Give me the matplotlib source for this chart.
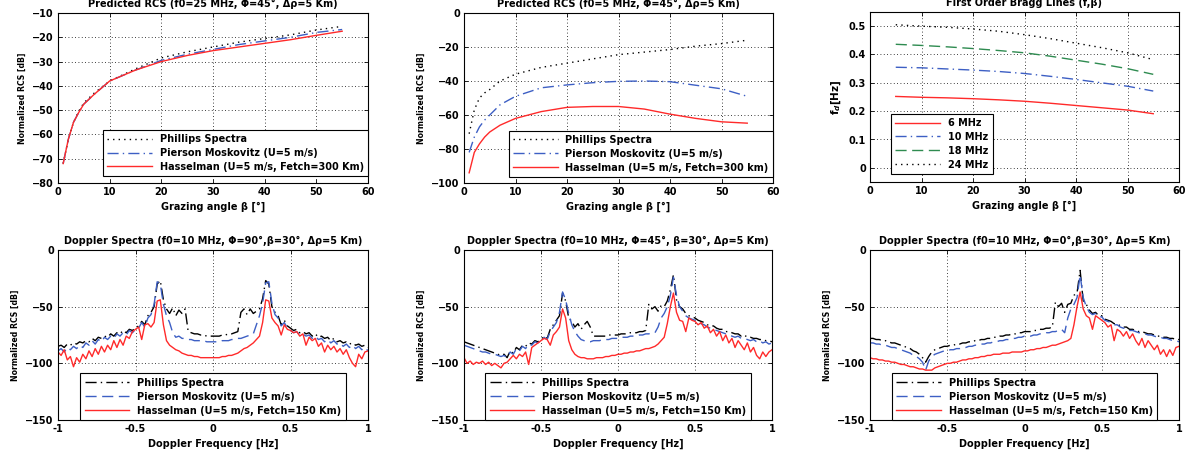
import numpy as np
import matplotlib
matplotlib.use('Agg')
from matplotlib import pyplot as plt
from matplotlib import font_manager

plt.rcParams['font.family'] = ['DejaVu Sans']
plt.rcParams['font.weight'] = 'bold'
plt.rcParams['font.size'] = 7
plt.rcParams['axes.titleweight'] = 'bold'
plt.rcParams['axes.labelweight'] = 'bold'

RED = '#ff2a2a'
BLUE = '#3d5fc4'
GREEN = '#2e8b50'

# ---- predicted RCS vs grazing angle ----
grazing = [1, 2, 3, 4, 5, 7, 10, 15, 20, 25, 30, 35, 40, 45, 50, 55]

rcs25_phillips = [-72, -62, -55, -50.5, -47, -43, -38, -33, -28.5, -26, -24, -22, -20.5, -19, -17, -15.5]
rcs25_pm = [-72, -62, -55, -51, -47.5, -43.5, -38, -33.5, -29.5, -27, -25, -23, -21.5, -20, -18, -16.8]
rcs25_hass = [-72, -62, -55, -51, -47.5, -43.5, -38, -33.5, -30, -27.5, -25.5, -24, -22.5, -21, -19.2, -17.5]

rcs5_phillips = [-71, -57, -50, -47, -45, -40, -36, -32, -29.5, -27, -24.5, -23, -21.5, -19.5, -18, -16]
rcs5_pm = [-82, -73, -67, -63, -60, -54, -49, -44, -42.3, -41, -40.2, -40, -40.4, -42.5, -44.6, -49]
rcs5_hass = [-94, -82, -77, -73, -70, -66, -62, -58, -55.5, -55, -55, -56.5, -59.5, -62, -64, -64.8]

# ---- first order Bragg lines ----
bragg_angle = [5, 10, 15, 20, 25, 30, 35, 40, 45, 50, 55]
bragg_6 = [0.252, 0.249, 0.247, 0.244, 0.240, 0.235, 0.228, 0.220, 0.212, 0.204, 0.191]
bragg_10 = [0.355, 0.353, 0.349, 0.345, 0.340, 0.333, 0.323, 0.312, 0.300, 0.288, 0.271]
bragg_18 = [0.436, 0.432, 0.427, 0.421, 0.414, 0.406, 0.394, 0.380, 0.366, 0.350, 0.330]
bragg_24 = [0.505, 0.500, 0.496, 0.490, 0.482, 0.470, 0.456, 0.440, 0.424, 0.406, 0.382]

# ---- doppler spectra, -1 .. 1 Hz in 0.02 Hz steps ----
doppler_freq = np.linspace(-1, 1, 101)

dop90_phillips = [-85, -84, -86, -83, -84, -82, -83, -81, -82, -80,
                  -81, -78, -80, -77, -78, -76, -77, -74, -76, -73,
                  -74, -71, -73, -70, -71, -69, -67, -63, -66, -58,
                  -55, -50, -30, -27, -44, -52, -56, -51, -58, -53,
                  -56, -52, -72, -73, -74, -74, -75, -75, -76, -76,
                  -76,
                  -76, -76, -75, -75, -74, -74, -73, -72, -55, -52,
                  -57, -52, -56, -54, -52, -43, -27, -30, -50, -55,
                  -58, -66, -62, -67, -69, -71, -70, -73, -72, -74,
                  -73, -76, -74, -77, -76, -78, -77, -80, -78, -81,
                  -80, -82, -81, -83, -82, -84, -83, -85, -84, -86]
dop90_pm = [-89, -87, -90, -86, -88, -85, -87, -84, -86, -82,
            -84, -80, -83, -79, -81, -77, -79, -76, -78, -74,
            -76, -73, -75, -71, -73, -70, -69, -64, -68, -60,
            -57, -48, -28, -30, -48, -58, -64, -73, -77, -76,
            -78, -78, -79, -79, -80, -80, -80, -80, -81, -81,
            -81,
            -81, -81, -80, -80, -80, -79, -79, -78, -78, -77,
            -76, -75, -74, -66, -58, -47, -29, -28, -47, -57,
            -60, -67, -64, -69, -71, -73, -72, -75, -74, -76,
            -75, -78, -76, -79, -78, -81, -79, -82, -80, -83,
            -82, -85, -83, -86, -84, -87, -85, -88, -86, -89]
dop90_hass = [-90, -93, -88, -97, -94, -103, -95, -99, -92, -96,
              -89, -94, -87, -92, -85, -90, -84, -88, -80, -86,
              -79, -84, -76, -78, -72, -70, -68, -79, -66, -65,
              -68, -64, -45, -44, -66, -80, -84, -86, -88, -89,
              -91, -92, -93, -93, -94, -94, -95, -95, -95, -95,
              -95,
              -95, -95, -94, -94, -93, -93, -92, -91, -89, -87,
              -86, -84, -82, -79, -76, -64, -44, -45, -60, -64,
              -67, -75, -66, -70, -71, -73, -72, -76, -74, -84,
              -77, -80, -78, -85, -82, -90, -84, -88, -85, -90,
              -87, -92, -88, -95, -100, -103, -92, -96, -90, -89]

dop45_phillips = [-81, -82, -83, -84, -85, -86, -87, -88, -89, -90,
                  -91, -92, -93, -92, -95, -89, -91, -86, -88, -84,
                  -85, -82, -83, -80, -81, -79, -76, -78, -70, -66,
                  -62, -58, -38, -45, -60, -63, -68, -65, -70, -66,
                  -63, -68, -76, -76, -76, -76, -76, -75, -75, -75,
                  -75,
                  -74, -74, -74, -73, -73, -73, -72, -72, -71, -48,
                  -52, -50, -54, -49, -50, -45, -35, -22, -44, -50,
                  -52, -56, -58, -59, -60, -62, -63, -64, -66, -67,
                  -67, -69, -70, -70, -72, -72, -73, -74, -74, -76,
                  -75, -77, -77, -78, -78, -79, -79, -80, -80, -81]
dop45_pm = [-84, -85, -86, -87, -88, -89, -90, -90, -91, -92,
            -92, -93, -94, -93, -95, -90, -92, -87, -89, -85,
            -87, -83, -84, -81, -82, -80, -77, -79, -72, -68,
            -64, -55, -37, -44, -56, -66, -72, -76, -79, -80,
            -81, -81, -80, -80, -80, -79, -79, -79, -78, -78,
            -78,
            -77, -77, -77, -76, -76, -76, -75, -75, -74, -74,
            -73, -73, -68, -60, -56, -50, -40, -24, -40, -50,
            -54, -58, -60, -61, -62, -64, -65, -66, -68, -69,
            -70, -71, -72, -73, -74, -75, -76, -77, -76, -78,
            -78, -79, -80, -79, -81, -80, -82, -81, -83, -82]
dop45_hass = [-95, -100, -98, -101, -99, -100, -98, -101, -99, -102,
              -100, -102, -104, -100, -99, -96, -93, -96, -92, -94,
              -90, -101, -86, -84, -82, -80, -78, -79, -84, -75,
              -72, -68, -52, -60, -80, -88, -92, -94, -95, -95,
              -96, -96, -96, -95, -95, -95, -94, -94, -93, -93,
              -92,
              -92, -91, -91, -90, -90, -89, -89, -88, -87, -87,
              -86, -85, -83, -80, -77, -65, -50, -38, -55, -62,
              -63, -72, -60, -62, -63, -66, -64, -69, -67, -73,
              -70, -76, -72, -80, -75, -82, -78, -86, -80, -84,
              -88, -82, -90, -86, -93, -96, -90, -94, -90, -88]

dop0_phillips = [-78, -78, -79, -79, -80, -80, -81, -82, -82, -83,
                 -84, -85, -86, -87, -89, -90, -92, -95, -99, -94,
                 -90, -88, -87, -86, -85, -85, -84, -84, -83, -83,
                 -82, -82, -81, -81, -80, -80, -79, -79, -78, -78,
                 -77, -77, -76, -76, -75, -75, -74, -74, -73, -73,
                 -72,
                 -72, -72, -71, -71, -70, -70, -69, -69, -68, -46,
                 -50, -47, -55, -48, -47, -40, -38, -18, -45, -48,
                 -53, -56, -55, -58, -58, -61, -62, -63, -65, -65,
                 -67, -68, -68, -70, -70, -71, -72, -72, -73, -74,
                 -74, -75, -76, -76, -77, -77, -78, -78, -79, -79]
dop0_pm = [-82, -82, -83, -83, -84, -84, -85, -86, -86, -87,
           -88, -89, -90, -91, -93, -94, -96, -99, -106, -98,
           -94, -92, -91, -90, -89, -89, -88, -88, -87, -87,
           -86, -86, -85, -85, -84, -84, -83, -83, -82, -82,
           -81, -81, -80, -80, -79, -79, -78, -78, -77, -77,
           -76,
           -76, -76, -75, -75, -74, -74, -73, -73, -72, -72,
           -71, -70, -73, -60, -52, -48, -42, -22, -42, -50,
           -55, -57, -56, -59, -59, -62, -63, -64, -66, -66,
           -68, -69, -69, -71, -71, -72, -73, -73, -74, -75,
           -75, -76, -77, -77, -78, -78, -79, -80, -80, -81]
dop0_hass = [-95, -96, -96, -97, -97, -98, -98, -99, -99, -100,
             -101, -101, -102, -103, -103, -104, -105, -105, -106, -106,
             -106, -104, -103, -102, -101, -100, -100, -99, -99, -98,
             -97, -97, -96, -96, -95, -95, -94, -94, -93, -93,
             -92, -92, -92, -91, -91, -91, -90, -90, -90, -90,
             -89,
             -89, -88, -88, -87, -87, -86, -86, -85, -84, -84,
             -83, -82, -81, -80, -78, -66, -50, -37, -52, -58,
             -60, -70, -58, -60, -62, -64, -68, -66, -80, -70,
             -72, -76, -72, -78, -74, -80, -84, -78, -86, -80,
             -84, -88, -84, -92, -88, -94, -88, -93, -86, -85]


# narrow font for the y labels, if one is around
def narrow_font():
    fonts = font_manager.fontManager.ttflist
    names = {f.name for f in fonts}
    if 'Liberation Sans Narrow' in names:
        return dict(family=['Liberation Sans Narrow'], fontsize=6.6, fontweight='bold')
    if any(f.name == 'DejaVu Sans' and f.stretch == 'condensed' for f in fonts):
        return dict(family=['DejaVu Sans'], fontstretch='condensed', fontsize=6.2, fontweight='bold')
    return dict(family=['Liberation Sans', 'DejaVu Sans'], fontsize=5.8, fontweight='bold')


YLABEL_FONT = narrow_font()


def style_axes(ax, title, xlabel, ylabel, ylabel_font=None):
    ax.grid(True, color='k', linestyle=(0, (1, 3)), linewidth=0.6)
    ax.tick_params(direction='in', length=3, top=True, right=True, width=0.6, pad=3)
    for sp in ax.spines.values():
        sp.set_linewidth(0.8)
    ax.set_title(title, fontsize=7, pad=4)
    ax.set_xlabel(xlabel, labelpad=3)
    ax.set_ylabel(ylabel, **(ylabel_font or YLABEL_FONT))


def add_legend(ax, **kw):
    leg = ax.legend(fontsize=7, handlelength=4.6, framealpha=1, fancybox=False,
                    edgecolor='k', borderpad=0.45, labelspacing=0.4, handletextpad=0.8,
                    borderaxespad=0, **kw)
    leg.get_frame().set_linewidth(0.8)
    return leg


fig = plt.figure(figsize=(11.9, 4.59), dpi=100)
W, H = 1190.0, 459.0


def axes_px(x0, y0, x1, y1):
    return fig.add_axes([x0 / W, 1 - y1 / H, (x1 - x0) / W, (y1 - y0) / H])


# top left
ax = axes_px(58, 13, 368, 183)
ax.plot(grazing, rcs25_phillips, color='k', linestyle=(0, (1, 3)), lw=1.0, label='Phillips Spectra')
ax.plot(grazing, rcs25_pm, color=BLUE, linestyle=(0, (8, 3, 1, 3)), lw=1.0, label='Pierson Moskovitz (U=5 m/s)')
ax.plot(grazing, rcs25_hass, color=RED, lw=1.0, label='Hasselman (U=5 m/s, Fetch=300 Km)')
ax.set_xlim(0, 60)
ax.set_ylim(-80, -10)
ax.set_yticks(range(-80, -9, 10))
style_axes(ax, 'Predicted RCS (f0=25 MHz, Φ=45°, Δρ=5 Km)', 'Grazing angle β [°]', 'Normalized RCS [dB]')
add_legend(ax, loc='lower right', bbox_to_anchor=(1.0, 0.04))

# top middle
ax = axes_px(464, 13, 773, 183)
ax.plot(grazing, rcs5_phillips, color='k', linestyle=(0, (1, 3)), lw=1.0, label='Phillips Spectra')
ax.plot(grazing, rcs5_pm, color=BLUE, linestyle=(0, (8, 3, 1, 3)), lw=1.0, label='Pierson Moskovitz (U=5 m/s)')
ax.plot(grazing, rcs5_hass, color=RED, lw=1.0, label='Hasselman (U=5 m/s, Fetch=300 km)')
ax.set_xlim(0, 60)
ax.set_ylim(-100, 0)
style_axes(ax, 'Predicted RCS (f0=5 MHz, Φ=45°, Δρ=5 Km)', 'Grazing angle β [°]', 'Normalized RCS [dB]')
add_legend(ax, loc='lower right', bbox_to_anchor=(1.0, 0.035))

# top right
ax = axes_px(870, 12, 1179, 182)
ax.plot(bragg_angle, bragg_6, color=RED, lw=1.0, label='6 MHz')
ax.plot(bragg_angle, bragg_10, color=BLUE, linestyle=(0, (8, 3, 1, 3)), lw=1.0, label='10 MHz')
ax.plot(bragg_angle, bragg_18, color=GREEN, linestyle=(0, (8, 4)), lw=1.0, label='18 MHz')
ax.plot(bragg_angle, bragg_24, color='k', linestyle=(0, (1, 3)), lw=1.0, label='24 MHz')
ax.set_xlim(0, 60)
ax.set_ylim(-0.05, 0.55)
ax.set_yticks([0, 0.1, 0.2, 0.3, 0.4, 0.5])
ax.set_yticklabels(['0', '0.1', '0.2', '0.3', '0.4', '0.5'])
style_axes(ax, 'First Order Bragg Lines (f,β)', 'Grazing angle β [°]', 'f$_d$[Hz]',
           ylabel_font=dict(fontsize=7.5, fontweight='bold'))
add_legend(ax, loc='lower left', bbox_to_anchor=(0.068, 0.047))

# bottom row
doppler_sets = [
    ((58, 250, 368, 420), 'Doppler Spectra (f0=10 MHz, Φ=90°,β=30°, Δρ=5 Km)',
     dop90_phillips, dop90_pm, dop90_hass),
    ((464, 250, 772, 420), 'Doppler Spectra (f0=10 MHz, Φ=45°, β=30°, Δρ=5 Km)',
     dop45_phillips, dop45_pm, dop45_hass),
    ((870, 250, 1179, 420), 'Doppler Spectra (f0=10 MHz, Φ=0°,β=30°, Δρ=5 Km)',
     dop0_phillips, dop0_pm, dop0_hass),
]
for box, title, ph, pm, hs in doppler_sets:
    ax = axes_px(*box)
    ax.plot(doppler_freq, ph, color='k', linestyle=(0, (8, 3, 1, 3)), lw=1.0, label='Phillips Spectra')
    ax.plot(doppler_freq, pm, color=BLUE, linestyle=(0, (8, 4)), lw=1.0, label='Pierson Moskovitz (U=5 m/s)')
    ax.plot(doppler_freq, hs, color=RED, lw=1.0, label='Hasselman (U=5 m/s, Fetch=150 Km)')
    ax.set_xlim(-1, 1)
    ax.set_ylim(-150, 0)
    ax.set_xticks([-1, -0.5, 0, 0.5, 1])
    ax.set_xticklabels(['-1', '-0.5', '0', '0.5', '1'])
    ax.set_yticks([-150, -100, -50, 0])
    style_axes(ax, title, 'Doppler Frequency [Hz]', 'Normalized RCS [dB]')
    add_legend(ax, loc='lower center', bbox_to_anchor=(0.5, 0.0))

fig.savefig('out.png', dpi=100)
